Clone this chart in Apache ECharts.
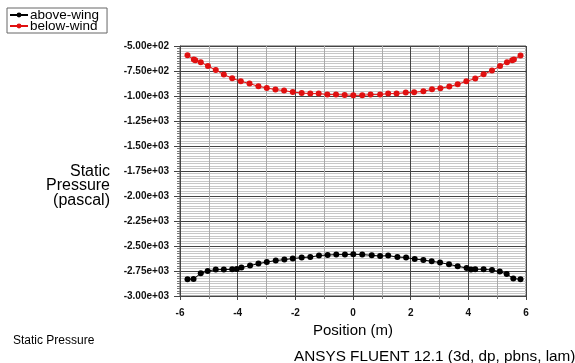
<!DOCTYPE html>
<html><head><meta charset="utf-8">
<script src="https://cdn.jsdelivr.net/npm/echarts@6/dist/echarts.min.js"></script>
<style>html,body{margin:0;padding:0;background:#fff}#c{width:575px;height:363px}</style>
</head><body><div id="c"></div>
<script>
var seriesNames = ['above-wing', 'below-wind'];
var aboveX = [-5.74,-5.53,-5.28,-5.04,-4.76,-4.48,-4.19,-4.03,-3.87,-3.57,-3.28,-2.99,-2.68,-2.38,-2.09,-1.78,-1.48,-1.18,-0.88,-0.58,-0.28,0.01,0.32,0.65,0.94,1.22,1.54,1.84,2.14,2.44,2.73,3.02,3.33,3.63,3.94,4.09,4.24,4.53,4.82,5.09,5.33,5.56,5.81];
var aboveY = [-2833,-2830,-2773,-2750,-2736,-2736,-2733,-2730,-2716,-2696,-2676,-2660,-2646,-2636,-2626,-2616,-2610,-2596,-2590,-2586,-2586,-2583,-2586,-2593,-2600,-2596,-2610,-2616,-2630,-2640,-2653,-2666,-2683,-2703,-2720,-2736,-2733,-2733,-2740,-2756,-2780,-2826,-2833];
var belowX = [-5.74,-5.52,-5.47,-5.28,-5.03,-4.76,-4.48,-4.19,-3.89,-3.59,-3.28,-2.99,-2.69,-2.39,-2.09,-1.78,-1.48,-1.19,-0.89,-0.59,-0.29,0.01,0.32,0.61,0.94,1.22,1.51,1.83,2.12,2.44,2.74,3.03,3.34,3.63,3.93,4.24,4.53,4.82,5.10,5.34,5.52,5.58,5.81];
var belowY = [-593,-636,-643,-663,-700,-740,-786,-823,-853,-876,-903,-920,-936,-946,-960,-970,-976,-976,-986,-986,-990,-993,-993,-986,-986,-976,-976,-966,-963,-953,-933,-923,-906,-883,-853,-826,-783,-746,-700,-663,-643,-636,-596];

function zip(xs, ys){ return xs.map(function(x,i){ return [x, ys[i]]; }); }
function fmtExp(v){
  var s = Number(v).toExponential(2);
  return s.replace(/e([+-])(\d)$/, 'e$10$2');
}
var chart = echarts.init(document.getElementById('c'));
var FF = 'Liberation Sans, Arial, sans-serif';
chart.setOption({
  animation: false,
  backgroundColor: '#fff',
  legend: {
    orient: 'vertical', left: 7, top: 8,
    itemWidth: 18, itemHeight: 6, itemGap: -3,
    padding: [0, 8, 0, 2],
    borderColor: '#666', borderWidth: 1,
    textStyle: { fontFamily: FF, fontSize: 13.5, lineHeight: 10, color: '#000', padding: [0,0,0,-3] },
    data: seriesNames
  },
  grid: { left: 180, right: 49, top: 46, bottom: 67, show: true, borderColor: '#555', borderWidth: 1 },
  xAxis: {
    type: 'value', min: -6, max: 6, interval: 2,
    name: 'Position (m)', nameLocation: 'middle', nameGap: 27,
    nameTextStyle: { fontFamily: FF, fontSize: 15, color: '#000' },
    axisLine: { show: true, onZero: false, lineStyle: { color: '#444' } },
    axisTick: { show: true, length: 4, lineStyle: { color: '#444' } },
    minorTick: { show: true, splitNumber: 2, length: 3, lineStyle: { color: '#777' } },
    axisLabel: { fontFamily: FF, fontSize: 10, fontWeight: 'bold', color: '#111', margin: 12 },
    splitLine: { show: true, lineStyle: { color: '#444', width: 1 } },
    minorSplitLine: { show: true, lineStyle: { color: '#aaa', width: 1 } }
  },
  yAxis: {
    type: 'value', min: -3000, max: -500, interval: 250,
    axisLine: { show: true, onZero: false, lineStyle: { color: '#444' } },
    axisTick: { show: true, length: 6, lineStyle: { color: '#444' } },
    minorTick: { show: true, splitNumber: 10, length: 3, lineStyle: { color: '#777' } },
    axisLabel: { fontFamily: FF, fontSize: 10, fontWeight: 'bold', color: '#111', margin: 11, formatter: fmtExp },
    splitLine: { show: true, lineStyle: { color: '#444', width: 1 } },
    minorSplitLine: { show: true, lineStyle: { color: '#c8c8c8', width: 1 } }
  },
  graphic: [
    { type: 'text', x: 110, y: 164, style: { text: 'Static\nPressure\n(pascal)', fontFamily: FF, fontSize: 16, lineHeight: 14.5, align: 'right', verticalAlign: 'top', fill: '#000' } },
    { type: 'text', left: 13, top: 335, style: { text: 'Static Pressure', fontFamily: FF, fontSize: 12, fill: '#000' } },
    { type: 'text', left: 294, top: 349, style: { text: 'ANSYS FLUENT 12.1 (3d, dp, pbns, lam)', fontFamily: FF, fontSize: 15.3, fill: '#000' } }
  ],
  series: [
    { name: seriesNames[0], type: 'line', data: zip(aboveX, aboveY), symbol: 'circle', symbolSize: 6,
      itemStyle: { color: '#000' }, lineStyle: { color: '#000', width: 1 } },
    { name: seriesNames[1], type: 'line', data: zip(belowX, belowY), symbol: 'circle', symbolSize: 6,
      itemStyle: { color: '#e01010' }, lineStyle: { color: '#e01010', width: 1 } }
  ]
});
</script></body></html>
